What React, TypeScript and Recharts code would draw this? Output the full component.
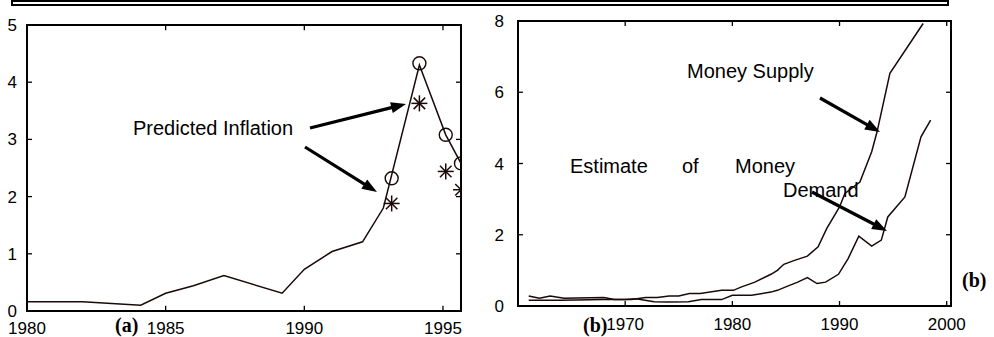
import React from 'react';
import { ComposedChart, Line, Scatter, XAxis, YAxis, ReferenceArea, ReferenceLine } from 'recharts';

// ---- Panel (a): inflation ----
const inflationYears = [1980, 1982, 1984.1, 1985, 1986, 1987.1, 1989.2, 1990, 1991, 1992.1, 1992.85, 1994.15, 1995.1, 1995.65];
const inflationValues = [0.16, 0.16, 0.1, 0.31, 0.44, 0.62, 0.31, 0.73, 1.04, 1.21, 1.8, 4.3, 3.08, 2.58];
const predictedYears = [1993.15, 1994.15, 1995.1, 1995.65];
const circleValues = [2.32, 4.33, 3.08, 2.58];
const starValues = [1.88, 3.63, 2.44, 2.12];
const inflationXTicks = [1980, 1985, 1990, 1995];
const inflationYTicks = [0, 1, 2, 3, 4, 5];

// ---- Panel (b): money supply / demand ----
const supplyYears = [1961, 1962, 1963, 1964.3, 1968, 1969, 1970.6, 1971.9, 1973, 1974.1, 1975, 1976, 1977, 1979, 1980.1, 1980.8, 1982.1, 1983.6, 1984.2, 1984.8, 1985.8, 1987, 1988, 1988.8, 1990, 1990.5, 1991.9, 1993, 1993.5, 1994.7, 1997.8];
const supplyValues = [0.28, 0.22, 0.28, 0.22, 0.24, 0.18, 0.18, 0.24, 0.24, 0.28, 0.28, 0.35, 0.35, 0.44, 0.44, 0.53, 0.67, 0.89, 1.0, 1.17, 1.28, 1.4, 1.66, 2.17, 2.78, 3.16, 3.48, 4.33, 4.89, 6.53, 7.93];
const demandYears = [1961, 1964, 1968, 1970, 1971, 1972.7, 1974, 1975.9, 1977.1, 1979, 1980, 1981.8, 1983.6, 1984.2, 1985.1, 1986.1, 1987, 1987.9, 1988.7, 1989.9, 1990.8, 1991.8, 1993, 1993.9, 1994.5, 1996.1, 1997.6, 1998.5];
const demandValues = [0.16, 0.16, 0.18, 0.18, 0.2, 0.12, 0.11, 0.12, 0.18, 0.18, 0.3, 0.3, 0.39, 0.44, 0.55, 0.67, 0.8, 0.63, 0.67, 0.89, 1.33, 1.96, 1.68, 1.85, 2.5, 3.06, 4.75, 5.22];
const moneyXTicks = [1970, 1980, 1990, 2000];
const moneyYTicks = [0, 2, 4, 6, 8];

const zip = (xs: number[], ys: number[]) => xs.map((year, i) => ({ year, v: ys[i] }));
const inflationData = zip(inflationYears, inflationValues);
const circleData = zip(predictedYears, circleValues);
const starData = zip(predictedYears, starValues);
const supplyData = zip(supplyYears, supplyValues);
const demandData = zip(demandYears, demandValues);

const INK = '#1a0909';
const SANS = '"Liberation Sans", Arial, sans-serif';
const SERIF = '"Liberation Serif", "Times New Roman", serif';

const CircleMark = (props: any) => {
  const { cx, cy } = props;
  if (cx == null || cy == null) return null;
  return <circle cx={cx} cy={cy} r={6.5} fill="none" stroke={INK} strokeWidth={1.4} />;
};

const StarMark = (props: any) => {
  const { cx, cy } = props;
  if (cx == null || cy == null) return null;
  const r = 8;
  const d = r * 0.72;
  return (
    <g stroke={INK} strokeWidth={1.5}>
      <line x1={cx - r} y1={cy} x2={cx + r} y2={cy} />
      <line x1={cx} y1={cy - r} x2={cx} y2={cy + r} />
      <line x1={cx - d} y1={cy - d} x2={cx + d} y2={cy + d} />
      <line x1={cx - d} y1={cy + d} x2={cx + d} y2={cy - d} />
    </g>
  );
};

const Arrow = ({ x1, y1, x2, y2 }: { x1: number; y1: number; x2: number; y2: number }) => {
  const dx = x2 - x1;
  const dy = y2 - y1;
  const L = Math.hypot(dx, dy);
  const ux = dx / L;
  const uy = dy / L;
  const hl = 15;
  const hw = 5.5;
  const bx = x2 - ux * hl;
  const by = y2 - uy * hl;
  const px = -uy;
  const py = ux;
  return (
    <g>
      <line x1={x1} y1={y1} x2={bx + ux} y2={by + uy} stroke="#000" strokeWidth={3.2} />
      <polygon points={`${x2},${y2} ${bx + px * hw},${by + py * hw} ${bx - px * hw},${by - py * hw}`} fill="#000" />
    </g>
  );
};

const tickFont = { fill: '#000', fontSize: 17, fontFamily: SANS };
const labelAxis = { type: 'number' as const, allowDataOverflow: true, axisLine: false, tickLine: false, tickSize: 0, interval: 0 as const, tick: tickFont };

// Inward MATLAB-style tick marks on all four sides of a frame, drawn through the chart's own scales.
// xLen / yLen: tick length expressed in data units of the respective axis.
function frameTicks(xd: number[], yd: number[], xt: number[], yt: number[], xLen: number, yLen: number, key: string) {
  const out: React.ReactElement[] = [];
  const common = { stroke: '#000', strokeWidth: 1.3, ifOverflow: 'visible' as const };
  xt.filter((t) => t > xd[0] && t < xd[1]).forEach((t) => {
    out.push(<ReferenceLine key={`${key}xb${t}`} segment={[{ x: t, y: yd[0] }, { x: t, y: yd[0] + yLen }]} {...common} />);
    out.push(<ReferenceLine key={`${key}xt${t}`} segment={[{ x: t, y: yd[1] }, { x: t, y: yd[1] - yLen }]} {...common} />);
  });
  yt.filter((t) => t > yd[0] && t < yd[1]).forEach((t) => {
    out.push(<ReferenceLine key={`${key}yl${t}`} segment={[{ x: xd[0], y: t }, { x: xd[0] + xLen, y: t }]} {...common} />);
    out.push(<ReferenceLine key={`${key}yr${t}`} segment={[{ x: xd[1], y: t }, { x: xd[1] - xLen, y: t }]} {...common} />);
  });
  return out;
}

const inflationXDomain = [1980, 1995.65];
const inflationYDomain = [0, 5];
const moneyXDomain = [1960, 2000.4];
const moneyYDomain = [0, 8];

export default function App() {
  return (
    <div style={{ position: 'absolute', left: 0, top: 0, width: 994, height: 337, background: '#fff', overflow: 'hidden' }}>
      {/* Panel (a) */}
      <div style={{ position: 'absolute', left: 0, top: 0 }}>
        <ComposedChart width={480} height={337} margin={{ top: 25, right: 19, bottom: 0, left: 0 }}>
          <XAxis {...labelAxis} dataKey="year" domain={inflationXDomain} ticks={inflationXTicks} height={26} tickMargin={11} />
          <YAxis {...labelAxis} domain={inflationYDomain} ticks={inflationYTicks} width={27} tickMargin={10} />
          <ReferenceArea x1={inflationXDomain[0]} x2={inflationXDomain[1]} y1={inflationYDomain[0]} y2={inflationYDomain[1]} fill="none" fillOpacity={0} stroke="#000" strokeWidth={2} ifOverflow="visible" />
          {frameTicks(inflationXDomain, inflationYDomain, inflationXTicks, inflationYTicks, 0.18, 0.09, 'a')}
          <Line data={inflationData} dataKey="v" type="linear" stroke={INK} strokeWidth={1.5} dot={false} isAnimationActive={false} />
          <Scatter data={circleData} dataKey="v" shape={CircleMark} isAnimationActive={false} />
          <Scatter data={starData} dataKey="v" shape={StarMark} isAnimationActive={false} />
        </ComposedChart>
      </div>

      {/* Panel (b) */}
      <div style={{ position: 'absolute', left: 490, top: 0 }}>
        <ComposedChart width={480} height={337} margin={{ top: 21, right: 19, bottom: 0, left: 0 }}>
          <XAxis {...labelAxis} dataKey="year" domain={moneyXDomain} ticks={moneyXTicks} height={31} tickMargin={12} />
          <YAxis {...labelAxis} domain={moneyYDomain} ticks={moneyYTicks} width={28} tickMargin={14} />
          <ReferenceArea x1={moneyXDomain[0]} x2={moneyXDomain[1]} y1={moneyYDomain[0]} y2={moneyYDomain[1]} fill="none" fillOpacity={0} stroke="#000" strokeWidth={2} ifOverflow="visible" />
          {frameTicks(moneyXDomain, moneyYDomain, moneyXTicks, moneyYTicks, 0.46, 0.14, 'b')}
          <Line data={supplyData} dataKey="v" type="linear" stroke={INK} strokeWidth={1.5} dot={false} isAnimationActive={false} />
          <Line data={demandData} dataKey="v" type="linear" stroke={INK} strokeWidth={1.5} dot={false} isAnimationActive={false} />
        </ComposedChart>
      </div>

      {/* Annotations overlay */}
      <svg width={994} height={337} style={{ position: 'absolute', left: 0, top: 0, pointerEvents: 'none' }}>
        <line x1={12} y1={1} x2={948} y2={1} stroke="#000" strokeWidth={2} />
        <line x1={12} y1={5} x2={948} y2={5} stroke="#000" strokeWidth={2} />
        <line x1={12} y1={0} x2={12} y2={6} stroke="#000" strokeWidth={2} />
        <line x1={948} y1={0} x2={948} y2={6} stroke="#000" strokeWidth={2} />

        <text x={133} y={135} fontFamily={SANS} fontSize={20} fill="#000">Predicted Inflation</text>
        <Arrow x1={310} y1={128} x2={406} y2={104} />
        <Arrow x1={305} y1={147} x2={377} y2={192} />

        <text x={687} y={78} fontFamily={SANS} fontSize={20} fill="#000">Money Supply</text>
        <Arrow x1={820} y1={98} x2={880} y2={132} />
        <text x={570} y={173} fontFamily={SANS} fontSize={20} fill="#000">Estimate</text>
        <text x={682} y={173} fontFamily={SANS} fontSize={20} fill="#000">of</text>
        <text x={735} y={173} fontFamily={SANS} fontSize={20} fill="#000">Money</text>
        <text x={783} y={197} fontFamily={SANS} fontSize={20} fill="#000">Demand</text>
        <Arrow x1={812} y1={192} x2={887} y2={231} />

        <text x={115} y={332} fontFamily={SERIF} fontWeight="bold" fontSize={20} fill="#000">(a)</text>
        <text x={583} y={332} fontFamily={SERIF} fontWeight="bold" fontSize={20} fill="#000">(b)</text>
        <text x={962} y={287} fontFamily={SERIF} fontWeight="bold" fontSize={20} fill="#000">(b)</text>
      </svg>
    </div>
  );
}
